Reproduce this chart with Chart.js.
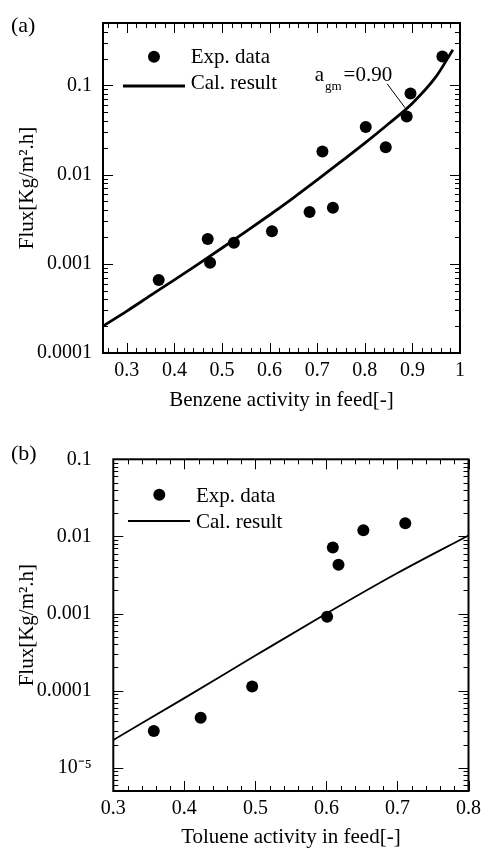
<!DOCTYPE html>
<html><head><meta charset="utf-8">
<script src="https://cdn.jsdelivr.net/npm/chart.js@4/dist/chart.umd.min.js"></script>
<style>
html,body{margin:0;padding:0;background:#fff;}
#wrap{position:relative;width:487px;height:850px;overflow:hidden;}
.box{position:absolute;left:0;width:487px;height:425px;}
canvas{display:block;}
</style></head><body>
<div id="wrap">
<div class="box" style="top:0"><canvas id="ca" width="487" height="425"></canvas></div>
<div class="box" style="top:425px"><canvas id="cb" width="487" height="425"></canvas></div>
</div>
<script>
// ---------- Panel (a): benzene ----------
const benzeneExpX = [0.367, 0.470, 0.475, 0.525, 0.605, 0.684, 0.711, 0.733, 0.802, 0.844, 0.888, 0.896, 0.963];
const benzeneExpY = [0.00066, 0.0019, 0.00103, 0.00172, 0.00231, 0.0038, 0.0181, 0.00425, 0.0342, 0.0202, 0.0447, 0.081, 0.21];
const benzeneCalX = [0.25, 0.30, 0.35, 0.40, 0.45, 0.50, 0.55, 0.60, 0.65, 0.70, 0.75, 0.80, 0.85, 0.90, 0.95, 0.985];
const benzeneCalY = [0.000200, 0.000295, 0.000442, 0.000661, 0.000993, 0.001503, 0.002291, 0.003524, 0.005495, 0.00871, 0.01396, 0.02249, 0.03715, 0.0631, 0.1259, 0.2512];
const benzeneXTicks = [0.3, 0.4, 0.5, 0.6, 0.7, 0.8, 0.9, 1.0];
const benzeneXLabels = ['0.3', '0.4', '0.5', '0.6', '0.7', '0.8', '0.9', '1'];
const benzeneYTicks = [0.0001, 0.001, 0.01, 0.1];
const benzeneYLabels = ['0.0001', '0.001', '0.01', '0.1'];

// ---------- Panel (b): toluene ----------
const tolueneExpX = [0.357, 0.423, 0.4955, 0.601, 0.609, 0.617, 0.652, 0.711];
const tolueneExpY = [3.0e-5, 4.46e-5, 1.13e-4, 9.1e-4, 0.0072, 0.00428, 0.012, 0.0148];
const tolueneCalX = [0.3, 0.4, 0.5, 0.6, 0.7, 0.8];
const tolueneCalY = [2.29e-5, 8.0e-5, 2.85e-4, 1.0e-3, 3.35e-3, 0.0103];
const tolueneXTicks = [0.3, 0.4, 0.5, 0.6, 0.7, 0.8];
const tolueneXLabels = ['0.3', '0.4', '0.5', '0.6', '0.7', '0.8'];
const tolueneYTicks = [1e-5, 1e-4, 0.001, 0.01, 0.1];
const tolueneYLabels = ['10\u207B\u2075', '0.0001', '0.001', '0.01', '0.1'];

const FONT = "'Liberation Serif','Times New Roman',serif";

const frameTicks = {
  id: 'frameTicks',
  afterDraw(chart, args, o) {
    const {ctx, chartArea: a, scales: {x, y}} = chart;
    ctx.save();
    ctx.strokeStyle = '#000';
    ctx.lineWidth = 1;
    const MAJ = 10, MIN = 5;
    const seg = (x1, y1, x2, y2) => { ctx.beginPath(); ctx.moveTo(x1, y1); ctx.lineTo(x2, y2); ctx.stroke(); };
    for (let k = Math.ceil(x.min / o.xMinor - 1e-9); k * o.xMinor <= x.max + 1e-9; k++) {
      const v = k * o.xMinor;
      const r = v / o.xMajor;
      const L = Math.abs(r - Math.round(r)) < 1e-6 ? MAJ : MIN;
      const px = Math.round(x.getPixelForValue(v)) + 0.5;
      seg(px, a.bottom, px, a.bottom - L);
      seg(px, a.top, px, a.top + L);
    }
    for (let e = Math.floor(Math.log10(y.min)); e <= Math.ceil(Math.log10(y.max)); e++) {
      for (let m = 1; m <= 9; m++) {
        const v = m * Math.pow(10, e);
        if (v < y.min * 0.9999 || v > y.max * 1.0001) continue;
        const L = m === 1 ? MAJ : MIN;
        const py = Math.round(y.getPixelForValue(v)) + 0.5;
        seg(a.left, py, a.left + L, py);
        seg(a.right, py, a.right - L, py);
      }
    }
    ctx.lineWidth = 2;
    ctx.strokeRect(a.left, a.top, a.right - a.left, a.bottom - a.top);
    ctx.restore();
  }
};

const annot = {
  id: 'annot',
  afterDraw(chart, args, o) {
    const {ctx, chartArea: a, scales: {x, y}} = chart;
    ctx.save();
    ctx.fillStyle = '#000';
    ctx.strokeStyle = '#000';
    ctx.textBaseline = 'alphabetic';
    ctx.textAlign = 'left';
    ctx.font = '22px ' + FONT;
    ctx.fillText(o.panel, o.panelPos[0], o.panelPos[1]);
    const L = o.legend;
    ctx.beginPath();
    ctx.arc(a.left + L.marker[0], a.top + L.marker[1], 6, 0, Math.PI * 2);
    ctx.fill();
    ctx.font = '21px ' + FONT;
    ctx.fillText('Exp. data', a.left + L.text1[0], a.top + L.text1[1]);
    ctx.lineWidth = L.lw;
    ctx.beginPath();
    ctx.moveTo(a.left + L.line[0], a.top + L.line[2]);
    ctx.lineTo(a.left + L.line[1], a.top + L.line[2]);
    ctx.stroke();
    ctx.fillText('Cal. result', a.left + L.text2[0], a.top + L.text2[1]);
    if (o.agm) {
      const g = o.agm;
      const tx = x.getPixelForValue(g.text[0]), ty = y.getPixelForValue(g.text[1]);
      ctx.font = '21px ' + FONT;
      ctx.fillText('a', tx, ty);
      const wa = ctx.measureText('a').width;
      ctx.font = '13px ' + FONT;
      ctx.fillText('gm', tx + wa + 1, ty + 9);
      const wg = ctx.measureText('gm').width;
      ctx.font = '21px ' + FONT;
      ctx.fillText('=0.90', tx + wa + wg + 3, ty);
      ctx.lineWidth = 1;
      ctx.beginPath();
      ctx.moveTo(x.getPixelForValue(g.from[0]), y.getPixelForValue(g.from[1]));
      ctx.lineTo(x.getPixelForValue(g.to[0]), y.getPixelForValue(g.to[1]));
      ctx.stroke();
    }
    ctx.restore();
  }
};

function buildChart(id, d) {
  return new Chart(document.getElementById(id), {
    type: 'scatter',
    data: {
      datasets: [
        {
          label: 'Exp. data',
          data: d.expX.map((v, i) => ({x: v, y: d.expY[i]})),
          showLine: false,
          pointRadius: 6, pointHoverRadius: 6,
          backgroundColor: '#000', borderColor: '#000', pointBorderWidth: 0,
          order: 1
        },
        {
          label: 'Cal. result',
          data: d.calX.map((v, i) => ({x: v, y: d.calY[i]})),
          showLine: true,
          pointRadius: 0, pointHoverRadius: 0,
          borderColor: '#000', backgroundColor: '#000',
          borderWidth: d.lw,
          cubicInterpolationMode: 'monotone',
          fill: false,
          order: 2
        }
      ]
    },
    options: {
      responsive: false,
      animation: false,
      devicePixelRatio: 1,
      layout: {padding: {top: d.padTop, right: d.padRight, left: 0, bottom: 0}},
      plugins: {
        legend: {display: false},
        tooltip: {enabled: false},
        frameTicks: {xMinor: 0.02, xMajor: 0.1},
        annot: d.annot
      },
      scales: {
        x: {
          type: 'linear', min: d.xMin, max: d.xMax,
          afterBuildTicks: s => { s.ticks = d.xTicks.map(v => ({value: v})); },
          afterFit: s => { s.height = d.xH; },
          ticks: {
            callback: (v, i) => d.xLabels[i],
            font: {family: FONT, size: 20}, color: '#000',
            padding: d.xTickPad, maxRotation: 0, minRotation: 0, autoSkip: false
          },
          grid: {display: false, drawTicks: false},
          border: {display: false},
          title: {display: true, text: d.xTitle, color: '#000',
                  font: {family: FONT, size: 21}, padding: {top: 0, bottom: d.xTitlePad}}
        },
        y: {
          type: 'logarithmic', min: d.yMin, max: d.yMax,
          afterBuildTicks: s => { s.ticks = d.yTicks.map(v => ({value: v, major: true})); },
          afterFit: s => { s.width = d.yW; },
          ticks: {
            callback: (v, i) => d.yLabels[i],
            font: {family: FONT, size: 20}, color: '#000',
            padding: d.yTickPad, autoSkip: false
          },
          grid: {display: false, drawTicks: false},
          border: {display: false},
          title: {display: true, text: 'Flux[Kg/m\u00B2.h]', color: '#000',
                  font: {family: FONT, size: 21}, padding: {top: d.yTitlePad, bottom: 0}}
        }
      }
    },
    plugins: [frameTicks, annot]
  });
}

buildChart('ca', {
  expX: benzeneExpX, expY: benzeneExpY, calX: benzeneCalX, calY: benzeneCalY,
  xTicks: benzeneXTicks, xLabels: benzeneXLabels, yTicks: benzeneYTicks, yLabels: benzeneYLabels,
  xMin: 0.25, xMax: 1.0, yMin: 0.0001, yMax: 0.5,
  lw: 2.8,
  padTop: 17, padRight: 27, yW: 103, xH: 72,
  xTickPad: 6, yTickPad: 11, xTitlePad: 12, yTitlePad: 15,
  xTitle: 'Benzene activity in feed[-]',
  annot: {
    panel: '(a)', panelPos: [11, 32],
    legend: {marker: [51, 33.7], text1: [87.7, 39.7], line: [20, 82, 63], text2: [87.7, 66.3], lw: 2.8},
    agm: {text: [0.6947, 0.1115], from: [0.847, 0.104], to: [0.8846, 0.056]}
  }
});

buildChart('cb', {
  expX: tolueneExpX, expY: tolueneExpY, calX: tolueneCalX, calY: tolueneCalY,
  xTicks: tolueneXTicks, xLabels: tolueneXLabels, yTicks: tolueneYTicks, yLabels: tolueneYLabels,
  xMin: 0.3, xMax: 0.8, yMin: 5e-6, yMax: 0.1,
  lw: 1.8,
  padTop: 34.3, padRight: 14.7, yW: 113.3, xH: 59,
  xTickPad: 6, yTickPad: 21.6, xTitlePad: 0, yTitlePad: 15,
  xTitle: 'Toluene activity in feed[-]',
  annot: {
    panel: '(b)', panelPos: [11, 35],
    legend: {marker: [46, 35.4], text1: [82.7, 42.4], line: [14.7, 76.7, 61.7], text2: [82.7, 69], lw: 1.8},
    agm: null
  }
});
</script>
</body></html>
